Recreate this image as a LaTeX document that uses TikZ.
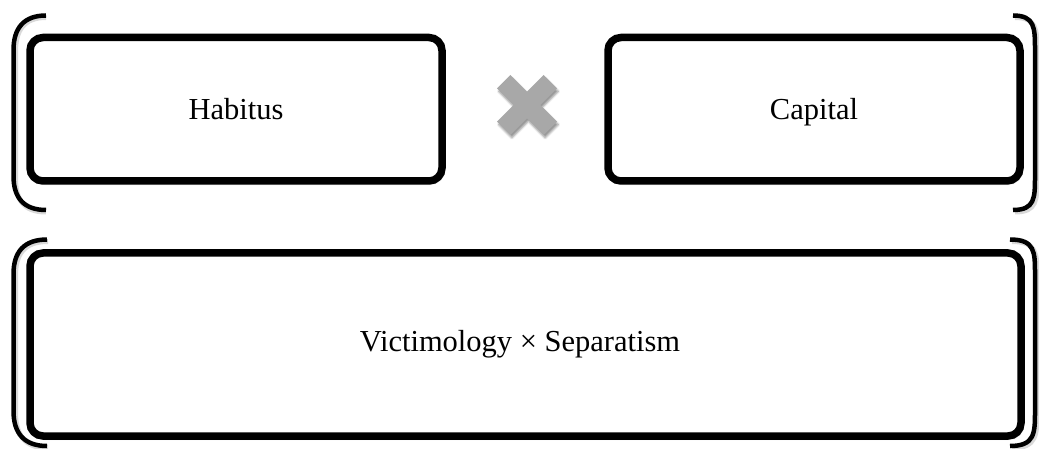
\documentclass[tikz,border=0pt]{standalone}
\usepackage{fontspec}
\setmainfont{Liberation Serif}
\usetikzlibrary{shadows,shadows.blur}
\definecolor{xgray}{RGB}{168,168,168}
\tikzset{
  box/.style={draw=black, line width=7.5pt, rounded corners=13pt, fill=white,
    blur shadow={shadow xshift=1.5pt, shadow yshift=-2.5pt, shadow blur steps=6, shadow opacity=35}},
  brk/.style={draw=black, line width=4.5pt},
  brkshadow/.style={draw=black, opacity=0.15, line width=5pt},
  lbl/.style={font=\fontsize{30.5}{36}\selectfont, inner sep=0pt, anchor=base},
}
\begin{document}
\begin{tikzpicture}[x=1pt, y=-1pt]
\useasboundingbox (0,0) rectangle (1039,449);
% bracket shadows
\draw[brkshadow] (46,17.5) .. controls (24,17.5) and (15.5,30) .. (15.5,52) -- (15.5,178) .. controls (15.5,200) and (24,212) .. (46,212);
\draw[brkshadow] (1015,17.5) .. controls (1037,17.5) and (1037,30) .. (1037,52) -- (1037,178) .. controls (1037,200) and (1037,212) .. (1015,212);
\draw[brkshadow] (48,241.5) .. controls (24,241.5) and (15.5,254) .. (15.5,276) -- (15.5,412) .. controls (15.5,434) and (24,448) .. (48,448);
\draw[brkshadow] (1012,241.5) .. controls (1037,241.5) and (1037,254) .. (1037,276) -- (1037,412) .. controls (1037,434) and (1037,448) .. (1012,448);
% brackets
\coordinate (tlA) at (46,15.5); \coordinate (tlB) at (46,210);
\coordinate (trA) at (1013,15.5); \coordinate (trB) at (1013,210);
\coordinate (blA) at (47,239.5); \coordinate (blB) at (47,446);
\coordinate (brA) at (1010,239.5); \coordinate (brB) at (1010,446);
\draw[brk] (tlA) .. controls (24,15.5) and (13.5,28) .. (13.5,50) -- (13.5,176) .. controls (13.5,198) and (24,210) .. (tlB);
\draw[brk] (trA) .. controls (1035,15.5) and (1035,28) .. (1035,50) -- (1035,176) .. controls (1035,198) and (1035,210) .. (trB);
\draw[brk] (blA) .. controls (24,239.5) and (13.5,252) .. (13.5,274) -- (13.5,411) .. controls (13.5,433) and (24,446) .. (blB);
\draw[brk] (brA) .. controls (1035,239.5) and (1035,252) .. (1035,274) -- (1035,411) .. controls (1035,433) and (1035,446) .. (brB);
% boxes
\path[box] (30,37.5) rectangle (442,181);
\path[box] (608,37.5) rectangle (1020,181);
\path[box] (30,253) rectangle (1021,436);
% labels
\node[lbl] (habitus) at (236,119.5) {Habitus};
\node[lbl] (capital) at (814,119.5) {Capital};
\node[lbl] (vs) at (520,351) {Victimology × Separatism};
% multiply sign
\begin{scope}[shift={(527,105)}, rotate=45]
\fill[xgray, blur shadow={shadow xshift=1.5pt, shadow yshift=-3pt, shadow blur steps=6, shadow opacity=40}]
  (33,-9.5) -- (33,9.5) -- (9.5,9.5) -- (9.5,33) -- (-9.5,33) -- (-9.5,9.5) -- (-33,9.5) -- (-33,-9.5) -- (-9.5,-9.5) -- (-9.5,-33) -- (9.5,-33) -- (9.5,-9.5) -- cycle;
\end{scope}
\end{tikzpicture}
\end{document}
